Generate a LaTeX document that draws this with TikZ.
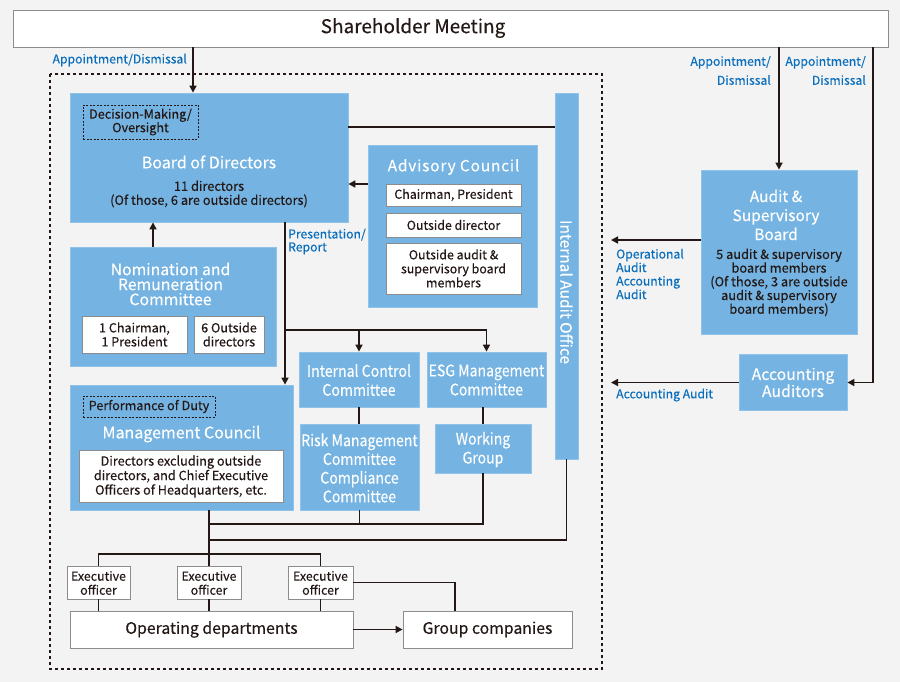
\documentclass[tikz,border=0pt]{standalone}
\usepackage{fontspec}
\setmainfont{Noto Sans CJK JP}[FakeBold=0.25]
\newfontfamily\cond{Noto Sans CJK JP}[FakeStretch=0.88,FakeBold=0.25]
\newfontfamily\spaced{Noto Sans CJK JP}[LetterSpace=5,FakeBold=0.25]
\usetikzlibrary{arrows.meta}
\definecolor{bg}{HTML}{F2F3F2}
\definecolor{bfill}{HTML}{74B3E2}
\definecolor{bedge}{HTML}{8FC3EA}
\definecolor{lblue}{HTML}{0A6EBD}
\definecolor{ink}{HTML}{231815}
\definecolor{gedge}{HTML}{8C8C8C}
\newcommand{\fs}[2]{\fontsize{#1}{#2}\selectfont}
\begin{document}
\begin{tikzpicture}[x=1pt,y=-1pt,
 bbox/.style={fill=bfill,draw=bedge,line width=0.8pt,inner sep=0pt},
 wbox/.style={fill=white,draw=gedge,line width=0.8pt,inner sep=0pt},
 dbox/.style={draw=ink,dash pattern=on 2pt off 1.5pt,line width=0.7pt,inner sep=0pt},
 wt/.style={text=white,align=center,inner sep=0pt},
 dt/.style={text=ink,align=center,inner sep=0pt},
 lb/.style={text=lblue,inner sep=0pt},
 conn/.style={draw=ink,line width=1.6pt},
 arr/.style={conn,-{Triangle[length=7pt,width=7pt]}},
]
\useasboundingbox (0,0) rectangle (900,682);
\fill[bg] (0,0) rectangle (900,682);

% shareholder
\node[wbox,minimum width=875pt,minimum height=37pt] (sh) at (450.5,28.5) {};
\node[dt,font=\fs{19}{22}] (sht) at (413,28) {Shareholder Meeting};

% dashed frame
\draw[draw=ink,dash pattern=on 3pt off 3pt,line width=1.2pt] (50,74) rectangle (602,669);

% board of directors
\node[bbox,minimum width=278pt,minimum height=129pt] (bod) at (209,157.5) {};
\node[dbox,minimum width=115pt,minimum height=34pt] (dmo) at (140.5,122) {};
\node[dt,font=\fs{12.6}{13.5}] (dmot) at (140.5,122) {Decision-Making/\\Oversight};
\node[wt,font=\fs{16}{18}] (bodt) at (209,162) {Board of Directors};
\node[dt,font=\fs{12.8}{14}] (bods) at (209,194) {11 directors\\(Of those, 6 are outside directors)};

% internal audit office
\node[bbox,minimum width=23pt,minimum height=366pt] (iao) at (566.5,276) {};
\node[wt,rotate=-90,font=\fs{15.5}{18}] (iaot) at (566.5,292) {Internal Audit Office};

% advisory council
\node[bbox,minimum width=169pt,minimum height=162pt] (adv) at (452.5,226) {};
\node[wt,font=\spaced\fs{15.5}{18}] (advt) at (453.5,167) {Advisory Council};
\node[wbox,minimum width=135pt,minimum height=22pt] (adv1) at (453.5,195) {};
\node[dt,font=\fs{12.4}{14}] (adv1t) at (453.5,195) {Chairman, President};
\node[wbox,minimum width=135pt,minimum height=24pt] (adv2) at (453.5,225) {};
\node[dt,font=\fs{12.4}{14}] (adv2t) at (453.5,225) {Outside director};
\node[wbox,minimum width=135pt,minimum height=51pt] (adv3) at (453.5,268.5) {};
\node[dt,font=\fs{12.4}{14}] (adv3t) at (453.5,268.5) {Outside audit \&\\supervisory board\\members};

% nomination
\node[bbox,minimum width=206pt,minimum height=119pt] (nom) at (173,306.5) {};
\node[wt,font=\fs{15.8}{15}] (nomt) at (170.5,284) {Nomination and\\Remuneration\\Committee};
\node[wbox,minimum width=105pt,minimum height=37pt] (nom1) at (134.5,334.5) {};
\node[dt,font=\fs{12.6}{14}] (nom1t) at (134.5,334.5) {1 Chairman,\\1 President};
\node[wbox,minimum width=70pt,minimum height=37pt] (nom2) at (229,334.5) {};
\node[dt,font=\fs{12.6}{14}] (nom2t) at (229,334.5) {6 Outside\\directors};

% committees
\node[bbox,minimum width=120pt,minimum height=55pt] (icc) at (359,379.5) {};
\node[wt,font=\cond\fs{16}{19}] (icct) at (359,380) {Internal Control\\Committee};
\node[bbox,minimum width=119pt,minimum height=55pt] (esg) at (486.5,379.5) {};
\node[wt,font=\cond\fs{16}{19}] (esgt) at (486.5,380) {ESG Management\\Committee};
\node[bbox,minimum width=119pt,minimum height=86pt] (rmc) at (359.5,467) {};
\node[wt,font=\cond\fs{16}{18.7}] (rmct) at (359.5,468) {Risk Management\\Committee\\Compliance\\Committee};
\node[bbox,minimum width=96pt,minimum height=49pt] (wg) at (483,448.5) {};
\node[wt,font=\cond\fs{16}{19}] (wgt) at (483,449.5) {Working\\Group};

% management council
\node[bbox,minimum width=223pt,minimum height=125pt] (mc) at (181.5,447.5) {};
\node[dbox,minimum width=132pt,minimum height=21pt] (pod) at (149,406.5) {};
\node[dt,font=\fs{12.6}{14}] (podt) at (149,406.5) {Performance of Duty};
\node[wt,font=\fs{16}{18}] (mct) at (181.5,434) {Management Council};
\node[wbox,minimum width=204pt,minimum height=52pt] (mci) at (181,476) {};
\node[dt,font=\fs{12.7}{14.5}] (mcit) at (181,476.5) {Directors excluding outside\\directors, and Chief Executive\\Officers of Headquarters, etc.};

% executive officers
\node[wbox,minimum width=63pt,minimum height=33pt] (e1) at (98.5,582.5) {};
\node[dt,font=\fs{12.4}{14}] (e1t) at (98.5,583) {Executive\\officer};
\node[wbox,minimum width=64pt,minimum height=33pt] (e2) at (209,582.5) {};
\node[dt,font=\fs{12.4}{14}] (e2t) at (209,583) {Executive\\officer};
\node[wbox,minimum width=65pt,minimum height=33pt] (e3) at (320.5,582.5) {};
\node[dt,font=\fs{12.4}{14}] (e3t) at (320.5,583) {Executive\\officer};
\node[wbox,minimum width=283pt,minimum height=37pt] (op) at (211.5,629.5) {};
\node[dt,font=\fs{15.8}{18}] (opt) at (211.5,629.5) {Operating departments};
\node[wbox,minimum width=169pt,minimum height=37pt] (grp) at (487.5,629.5) {};
\node[dt,font=\fs{15.8}{18}] (grpt) at (487.5,629.5) {Group companies};

% right side
\node[bbox,minimum width=156pt,minimum height=164pt] (asb) at (779,252) {};
\node[wt,font=\fs{15.5}{19}] (asbt) at (776,215) {Audit \&\\Supervisory\\Board};
\node[dt,font=\fs{12.8}{13.7}] (asbs) at (779,282.5) {5 audit \& supervisory\\board members\\(Of those, 3 are outside\\audit \& supervisory\\board members)};
\node[bbox,minimum width=108pt,minimum height=56pt] (aa) at (793,382.5) {};
\node[wt,font=\fs{15.8}{17}] (aat) at (793,382.5) {Accounting\\Auditors};

% coordinates
\coordinate (p1) at (193,60);
\coordinate (p2) at (348,127);
\coordinate (p3) at (348,184);
\coordinate (p4) at (153,230);
\coordinate (p5) at (285,330);
\coordinate (j1) at (209,524);
\coordinate (j2) at (209,540);
\coordinate (j3) at (209,554);
\coordinate (g1) at (455,600);
\coordinate (k) at (873,382);
\coordinate (t) at (611,240);

% connectors
\draw[arr] (sh.south -| p1) -- (bod.north -| p1);
\draw[conn] (bod.east |- p2) -- (iao.west |- p2);
\draw[arr] (adv.west |- p3) -- (bod.east |- p3);
\draw[arr] (nom.north -| p4) -- (bod.south -| p4);
\draw[arr] (bod.south -| p5) -- (mc.north -| p5);
\draw[conn] (p5) -- (p5 -| esg);
\draw[arr] (p5 -| icc) -- (icc.north);
\draw[arr] (p5 -| esg) -- (esg.north);
\draw[conn] (icc.south) -- (icc.south |- rmc.north);
\draw[conn] (wg.north) -- (wg.north |- esg.south);
\draw[conn] (rmc.south) -- (rmc.south |- j1);
\draw[conn] (wg.south) -- (wg.south |- j1) -- (j1);
\draw[conn] (iao.south) -- (iao.south |- j2) -- (j2);
\draw[conn] (mc.south -| j1) -- (j3);
\draw[conn] (e1.north) -- (e1.north |- j3) -- (e3.north |- j3) -- (e3.north);
\draw[conn] (j3) -- (e2.north);
\draw[conn] (e1.south) -- (e1.south |- op.north);
\draw[conn] (e2.south) -- (e2.south |- op.north);
\draw[conn] (e3.south) -- (e3.south |- op.north);
\draw[arr] (op.east) -- (grp.west);
\draw[conn] (e3.east) -| (grp.north -| g1);
\draw[arr] (sh.south -| asb.north) -- (asb.north);
\draw[arr] (sh.south -| k) |- (aa.east);
\draw[arr] (asb.west |- t) -- (t);
\draw[arr] (aa.west) -- (aa.west -| t);

% labels
\node[lb,font=\fs{12.2}{14},anchor=east] (l1) at (187,60) {Appointment/Dismissal};
\node[lb,font=\fs{12.2}{19},align=right,anchor=east] (l2) at (771,70.5) {Appointment/\\Dismissal};
\node[lb,font=\fs{12.2}{19},align=right,anchor=east] (l3) at (866,70.5) {Appointment/\\Dismissal};
\node[lb,font=\fs{12.2}{13},align=left,anchor=west] (l4) at (288,241.5) {Presentation/\\Report};
\node[lb,font=\fs{12.2}{13.5},align=left,anchor=west] (l5) at (616,274) {Operational\\Audit\\Accounting\\Audit};
\node[lb,font=\fs{12.2}{14},anchor=west] (l6) at (616,395) {Accounting Audit};
\end{tikzpicture}
\end{document}
